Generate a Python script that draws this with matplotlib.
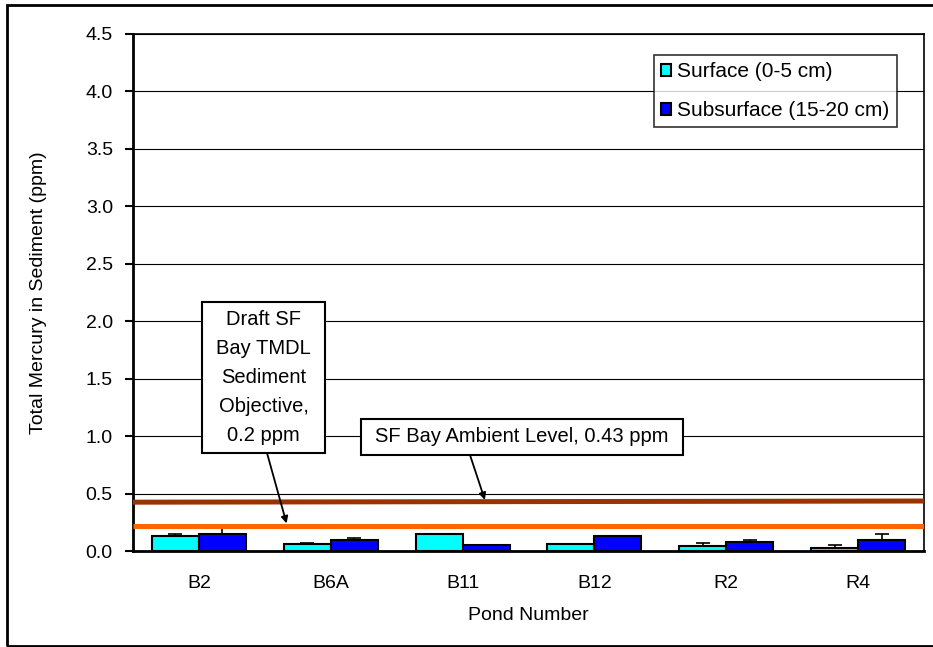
"""Total mercury in pond sediment, surface vs subsurface."""

import numpy as np
import matplotlib.pyplot as plt
from matplotlib.patches import Rectangle

plt.rcParams["font.family"] = ["Liberation Sans", "DejaVu Sans"]

ponds = ["B2", "B6A", "B11", "B12", "R2", "R4"]
surface = [0.13, 0.064, 0.148, 0.064, 0.047, 0.03]
surface_err = [0.02, 0.005, 0.0, 0.0, 0.02, 0.025]
subsurface = [0.148, 0.096, 0.05, 0.13, 0.082, 0.096]
subsurface_err = [0.05, 0.021, 0.0, 0.0, 0.018, 0.052]
tmdl_level = [0.22, 0.22]
ambient_level = [0.425, 0.435]
yticks = np.arange(0, 4.51, 0.5)

W, H = 933, 647


def px(x, y):
    # image pixel coords -> figure fraction
    return x / W, 1 - y / H


fig = plt.figure(figsize=(W / 100, H / 100), dpi=100)
left, top = px(133, 34)
right, bottom = px(924, 551)
ax = fig.add_axes([left, bottom, right - left, top - bottom])

x = np.arange(len(ponds))
w = 0.357
ekw = dict(ecolor="black", capsize=5, elinewidth=1.2, capthick=1.2)
ax.bar(x - w / 2, surface, w, color="#00FFFF", edgecolor="black", lw=1.5,
       yerr=[np.zeros(6), surface_err], error_kw=ekw, label="Surface (0-5 cm)", zorder=3)
ax.bar(x + w / 2, subsurface, w, color="#0000FF", edgecolor="black", lw=1.5,
       yerr=[np.zeros(6), subsurface_err], error_kw=ekw, label="Subsurface (15-20 cm)", zorder=3)

ax.plot([-0.5, 5.5], tmdl_level, color="#FF6600", lw=3.6, zorder=4, solid_capstyle="butt")
ax.plot([-0.5, 5.5], ambient_level, color="#993300", lw=3.6, zorder=4, solid_capstyle="butt")

ax.set_xlim(-0.5, 5.5)
ax.set_ylim(0, 4.5)
ax.set_yticks(yticks)
ax.set_yticklabels([f"{v:.1f}" for v in yticks], fontsize=14)
ax.set_xticks(x)
ax.set_xticklabels(ponds, fontsize=14)
ax.tick_params(axis="x", length=0, pad=17)
ax.tick_params(axis="y", length=6, width=1.5, direction="out", pad=8.5)
ax.yaxis.grid(True, color="black", lw=0.8, zorder=0)
ax.set_axisbelow(True)
for s in ["left", "bottom"]:
    ax.spines[s].set_linewidth(2)
for s in ["top", "right"]:
    ax.spines[s].set_linewidth(1.2)

ax.set_ylabel("Total Mercury in Sediment (ppm)", fontsize=14, va="center")
ax.yaxis.set_label_coords((39 - 133) / 791, 0.5)
ax.set_xlabel("Pond Number", fontsize=14, va="center")
ax.xaxis.set_label_coords(0.5, (551 - 615) / 517)

leg = ax.legend(loc="upper right", bbox_to_anchor=px(897, 55), bbox_transform=fig.transFigure,
                fontsize=15, frameon=True, fancybox=False, edgecolor="black",
                handlelength=0.5, handleheight=0.5, handletextpad=0.3,
                borderpad=0.35, borderaxespad=0, labelspacing=0.95)
leg.get_frame().set_linewidth(1.2)

# annotation boxes
tr = fig.transFigure
bx0, by0 = px(202, 453)
bx1, by1 = px(325, 302)
fig.patches.append(Rectangle((bx0, by0), bx1 - bx0, by1 - by0, transform=tr,
                             facecolor="white", edgecolor="black", lw=1.5, zorder=5))
fig.text((bx0 + bx1) / 2, (by0 + by1) / 2,
         "Draft SF\nBay TMDL\nSediment\nObjective,\n0.2 ppm",
         ha="center", va="center", fontsize=14.5, linespacing=1.68, zorder=6)

cx0, cy0 = px(361, 455)
cx1, cy1 = px(683, 419)
fig.patches.append(Rectangle((cx0, cy0), cx1 - cx0, cy1 - cy0, transform=tr,
                             facecolor="white", edgecolor="black", lw=1.5, zorder=5))
fig.text((cx0 + cx1) / 2, (cy0 + cy1) / 2, "SF Bay Ambient Level, 0.43 ppm",
         ha="center", va="center", fontsize=14.5, zorder=6)

arrow = dict(arrowstyle="-|>", color="black", lw=1.3, mutation_scale=10,
             shrinkA=0, shrinkB=0)
ax.annotate("", xy=(0.665, tmdl_level[0] + 0.02), xycoords="data",
            xytext=px(267, 453), textcoords="figure fraction", arrowprops=arrow, zorder=6)
ax.annotate("", xy=(2.169, 0.445), xycoords="data",
            xytext=px(470, 455), textcoords="figure fraction", arrowprops=arrow, zorder=6)

# outer frame
fx0, fy0 = px(7, 646)
fx1, fy1 = px(940, 5)
fig.patches.append(Rectangle((fx0, fy0), fx1 - fx0, fy1 - fy0, transform=tr,
                             fill=False, edgecolor="black", lw=2, zorder=0))

fig.savefig("out.png", dpi=100)
